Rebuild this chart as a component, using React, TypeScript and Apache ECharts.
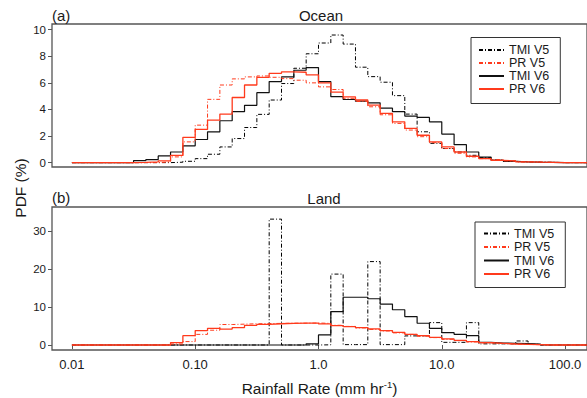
import React, { useEffect, useRef } from 'react';
import * as echarts from 'echarts';

// Histogram bins: 0.1-decade wide, first bin starts at 0.01 mm/hr (k = -20 .. 21)
const BIN_FIRST_EXP = -2.0;
const BIN_WIDTH_EXP = 0.1;

const seriesNames = ['TMI V5', 'PR V5', 'TMI V6', 'PR V6'];
const xTickValues = [0.01, 0.1, 1, 10, 100];
const xTickLabels = ['0.01', '0.10', '1.0', '10.0', '100.0'];
const oceanYTicks = [0, 2, 4, 6, 8, 10];
const landYTicks = [0, 10, 20, 30];

// ---- Ocean (a) ----
const oceanTmiV5 = [
  0, 0, 0, 0, 0, 0, 0, 0,
  0.03, 0.1, 0.3, 0.63, 1.18, 1.81, 2.64, 3.63, 4.71, 5.95,
  7.1, 8.19, 9.0, 9.6, 8.92, 7.18, 6.47, 6.05, 5.04, 3.65,
  2.32, 1.45, 1.06, 0.8, 0.55, 0.38, 0.2, 0.1, 0.05, 0.03,
  0.02, 0, 0, 0,
];
const oceanPrV5 = [
  0, 0, 0, 0, 0, 0, 0,
  0.05, 0.43, 1.56, 2.82, 4.76, 5.84, 6.3, 6.45, 6.52, 6.42, 6.32,
  6.2, 6.0, 5.7, 5.5, 4.84, 4.6, 4.2, 3.6, 2.95, 2.45,
  1.95, 1.5, 1.06, 0.7, 0.43, 0.3, 0.23, 0.13, 0.05, 0.05,
  0.02, 0, 0, 0,
];
const oceanTmiV6 = [
  0, 0, 0, 0, 0,
  0.15, 0.23, 0.5, 0.8, 1.26, 1.74, 2.32, 3.15, 3.83, 4.31,
  5.26, 6.1, 6.45, 6.95, 7.15, 6.1, 4.96, 4.75, 4.62, 4.5,
  4.1, 3.83, 3.5, 3.4, 3.07, 2.15, 1.35, 0.8, 0.42, 0.17,
  0.1, 0.05, 0.03, 0.02, 0, 0, 0,
];
const oceanPrV6 = [
  0, 0, 0, 0, 0,
  0.02, 0.05, 0.13, 0.55, 1.9, 2.5, 3.2, 3.65, 4.9, 5.84,
  6.42, 6.72, 6.83, 6.8, 6.6, 6.0, 5.3, 4.95, 4.71, 4.33,
  3.7, 3.07, 2.57, 2.06, 1.56, 1.18, 0.8, 0.48, 0.3, 0.17,
  0.12, 0.05, 0.03, 0.02, 0, 0, 0,
];

// ---- Land (b) ----
const landTmiV5 = [
  0, 0, 0, 0, 0, 0, 0, 0, 0, 0, 0, 0, 0, 0, 0, 0,
  33.2, 0, 0, 0, 0.05,
  18.7, 0.1, 0.1, 22.0, 0.1, 0.1, 2.4, 2.45, 5.9, 0.7,
  0.7, 5.9, 0.3, 0.3, 0.3, 1.06, 0.2,
  0, 0, 0, 0,
];
const landPrV5 = [
  0, 0, 0, 0, 0, 0, 0, 0,
  0.26, 0.9, 2.8, 3.9, 5.4, 5.5, 5.6, 5.65, 5.7, 5.75,
  5.75, 5.8, 5.7, 5.2, 4.9, 4.5, 4.1, 3.7, 3.2, 2.8,
  2.3, 1.95, 1.5, 1.15, 0.8, 0.55, 0.4, 0.25, 0.15, 0.08,
  0, 0, 0, 0,
];
const landTmiV6 = [
  0, 0, 0, 0, 0, 0, 0, 0, 0, 0, 0, 0, 0, 0, 0, 0, 0, 0, 0,
  0.3, 2.65, 8.8, 12.6, 12.6, 12.2, 10.8, 9.3, 7.5, 5.73,
  4.4, 3.26, 2.82, 2.47, 0.7, 0.53, 0.44, 0.35, 0.26, 0,
  0, 0, 0,
];
const landPrV6 = [
  0, 0, 0, 0, 0, 0, 0, 0,
  0.65, 2.47, 3.8, 4.4, 4.2, 4.6, 5.2, 5.45, 5.6, 5.7,
  5.75, 5.75, 5.56, 5.1, 4.85, 4.6, 4.23, 3.8, 3.35, 2.82,
  2.47, 2.03, 1.6, 1.23, 0.88, 0.62, 0.44, 0.26, 0.18, 0.1,
  0, 0, 0, 0,
];

const FONT = '"Liberation Sans", Arial, Helvetica, sans-serif';
const RED = '#ff3a1c';
const TEXT = '#1a1a1a';
const AXIS = '#555';

function toSteps(values: number[]): number[][] {
  const pts = values.map((v, i) => [Math.pow(10, BIN_FIRST_EXP + i * BIN_WIDTH_EXP), v]);
  pts.push([Math.pow(10, BIN_FIRST_EXP + values.length * BIN_WIDTH_EXP), values[values.length - 1]]);
  return pts;
}

const lineStyles: Record<string, any> = {
  'TMI V5': { color: '#000', type: [4, 2, 1, 2], width: 1 },
  'PR V5': { color: RED, type: [4, 2, 1, 2], width: 1 },
  'TMI V6': { color: '#111', type: 'solid', width: 1.2 },
  'PR V6': { color: RED, type: 'solid', width: 1.3 },
};

const X_MIN = Math.pow(10, -2.1616);
const X_MAX = Math.pow(10, 2.178);

function xLabel(v: number): string {
  const i = xTickValues.findIndex((t) => Math.abs(Math.log10(t) - Math.log10(v)) < 1e-6);
  return i >= 0 ? xTickLabels[i] : '';
}

export default function App() {
  const ref = useRef<HTMLDivElement>(null);
  useEffect(() => {
    document.body.style.margin = '0';
    if (!ref.current) return;
    const chart = echarts.init(ref.current, undefined, { renderer: 'svg' });

    const panels = [
      { values: [oceanTmiV5, oceanPrV5, oceanTmiV6, oceanPrV6] },
      { values: [landTmiV5, landPrV5, landTmiV6, landPrV6] },
    ];
    const series: any[] = [];
    panels.forEach((p, pi) => {
      p.values.forEach((vals, si) => {
        const name = seriesNames[si];
        series.push({
          type: 'line',
          name,
          xAxisIndex: pi,
          yAxisIndex: pi,
          data: toSteps(vals),
          step: 'end',
          symbol: 'none',
          showSymbol: false,
          color: lineStyles[name].color,
          lineStyle: lineStyles[name],
          z: si === 3 ? 4 : si === 1 ? 3 : 2,
          silent: true,
        });
      });
    });

    const legendBase = {
      orient: 'vertical',
      data: seriesNames,
      itemWidth: 25,
      itemHeight: 12,
      borderColor: '#333',
      borderWidth: 1,
      borderRadius: 0,
      backgroundColor: '#fff',
      selectedMode: false,
      textStyle: { fontSize: 12.5, fontFamily: FONT, color: TEXT, lineHeight: 12 },
      itemStyle: { opacity: 0 },
    };

    const gridBase = { left: 52, right: -2, height: 143, show: true, borderColor: AXIS, borderWidth: 1.3, containLabel: false };

    const yAxisBase = (min: number, max: number, ticks: number[]) => ({
      type: 'value',
      min,
      max,
      axisLine: { show: false },
      splitLine: { show: false },
      axisTick: { show: true, customValues: ticks, length: 4, inside: false, lineStyle: { color: AXIS, width: 1 } },
      axisLabel: { show: true, customValues: ticks, fontSize: 11.5, fontFamily: FONT, color: TEXT, margin: 6 },
    });

    chart.setOption({
      animation: false,
      backgroundColor: '#fff',
      grid: [
        { ...gridBase, top: 24 },
        { ...gridBase, top: 207 },
      ],
      xAxis: [
        {
          gridIndex: 0,
          type: 'log',
          logBase: 10,
          min: X_MIN,
          max: X_MAX,
          axisLine: { show: false },
          axisTick: { show: false },
          axisLabel: { show: false },
          splitLine: { show: false },
        },
        {
          gridIndex: 1,
          type: 'log',
          logBase: 10,
          min: X_MIN,
          max: X_MAX,
          axisLine: { show: false },
          splitLine: { show: false },
          axisTick: { show: true, customValues: xTickValues, length: 4, lineStyle: { color: AXIS, width: 1 } },
          axisLabel: { show: true, customValues: xTickValues, formatter: (v: number) => xLabel(v), fontSize: 13, fontFamily: FONT, color: TEXT, margin: 8 },
          name: 'Rainfall Rate (mm hr{sup|-1})',
          nameLocation: 'middle',
          nameGap: 29,
          nameTextStyle: {
            fontSize: 15.5,
            fontFamily: FONT,
            color: TEXT,
            lineHeight: 18,
            rich: { sup: { fontSize: 9.5, fontFamily: FONT, color: TEXT, lineHeight: 11, verticalAlign: 'top' } },
          },
        },
      ],
      yAxis: [
        { gridIndex: 0, ...yAxisBase(-0.33, 10.43, oceanYTicks) },
        { gridIndex: 1, ...yAxisBase(-1.32, 36.4, landYTicks) },
      ],
      legend: [
        { ...legendBase, left: 471, top: 37.5, itemGap: 0, padding: [6, 11, 8, 7] },
        { ...legendBase, left: 475, top: 222, itemGap: 0.5, padding: [5, 11, 7, 8] },
      ],
      graphic: [
        { type: 'text', x: 52, y: 15, style: { text: '(a)', font: `15px ${FONT}`, fill: TEXT, align: 'left', verticalAlign: 'middle' } },
        { type: 'text', x: 321, y: 15, style: { text: 'Ocean', font: `15px ${FONT}`, fill: TEXT, align: 'center', verticalAlign: 'middle' } },
        { type: 'text', x: 52, y: 197, style: { text: '(b)', font: `15px ${FONT}`, fill: TEXT, align: 'left', verticalAlign: 'middle' } },
        { type: 'text', x: 324, y: 198, style: { text: 'Land', font: `15px ${FONT}`, fill: TEXT, align: 'center', verticalAlign: 'middle' } },
        { type: 'text', x: 20, y: 188, rotation: Math.PI / 2, style: { text: 'PDF (%)', font: `15.5px ${FONT}`, fill: TEXT, align: 'center', verticalAlign: 'middle' } },
      ],
      series,
    });

    return () => chart.dispose();
  }, []);

  return <div ref={ref} style={{ width: 587, height: 398 }} />;
}
